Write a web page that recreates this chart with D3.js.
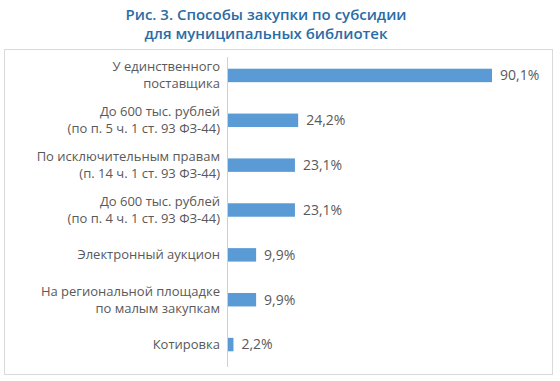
<!DOCTYPE html>
<html>
<head>
<meta charset="utf-8">
<script src="https://cdn.jsdelivr.net/npm/d3@7"></script>
<style>
  body { margin: 0; background: #fff; }
  svg { display: block; }
</style>
</head>
<body>
<script>
// Рис. 3 - способы закупки по субсидии
const categories = [
    ["У единственного", "поставщика"],
    ["До 600 тыс. рублей", "(по п. 5 ч. 1 ст. 93 ФЗ-44)"],
    ["По исключительным правам", "(п. 14 ч. 1 ст. 93 ФЗ-44)"],
    ["До 600 тыс. рублей", "(по п. 4 ч. 1 ст. 93 ФЗ-44)"],
    ["Электронный аукцион"],
    ["На региональной площадке", "по малым закупкам"],
    ["Котировка"]
]
const values = [90.1, 24.2, 23.1, 23.1, 9.9, 9.9, 2.2]
const valueLabels = ["90,1%", "24,2%", "23,1%", "23,1%", "9,9%", "9,9%", "2,2%"]
const titleLines = ["Рис. 3. Способы закупки по субсидии", "для муниципальных библиотек"]

const width = 560, height = 381
const fontFam = "'Open Sans', 'Noto Sans', sans-serif"
const axisX = 227
const lineH = 17

const svg = d3.select("body").append("svg")
    .attr("width", width)
    .attr("height", height)

svg.append("g")
    .selectAll("text")
    .data(titleLines)
    .enter()
    .append("text")
    .attr("x", 266)
    .attr("y", (d, i) => 20 + i * 19)
    .attr("text-anchor", "middle")
    .attr("font-family", fontFam)
    .attr("font-size", "15px")
    .attr("font-weight", 600)
    .attr("fill", "#2a6ca6")
    .text(d => d)

// frame
svg.append("rect")
    .attr("x", 4.5)
    .attr("y", 49.5)
    .attr("width", 548)
    .attr("height", 325)
    .attr("fill", "none")
    .attr("stroke", "#d9d9d9")
    .attr("stroke-width", 1)

const x = d3.scaleLinear()
    .domain([0, 90.1])
    .range([axisX, 492])

const y = d3.scaleBand()
    .domain(d3.range(categories.length))
    .range([53, 367])
    .paddingInner(0.7)
    .paddingOuter(0.35)

svg.append("g")
    .selectAll("rect")
    .data(values)
    .enter()
    .append("rect")
    .attr("x", x(0))
    .attr("y", (d, i) => y(i))
    .attr("width", d => x(d) - x(0))
    .attr("height", y.bandwidth())
    .attr("fill", "#5b9bd5")

// category axis
const yAxis = svg.append("g")
    .attr("transform", `translate(${axisX},0)`)
    .call(d3.axisLeft(y).tickSize(0).tickFormat(""))
yAxis.select(".domain")
    .attr("stroke", "#d0d0d0")
    .attr("d", `M0.5,57V367`)

// multi-line labels, each line its own text
const catLines = categories.flatMap((lines, i) =>
    lines.map((t, j) => ({t: t, i: i, off: (j - (lines.length - 1) / 2) * lineH})))

svg.append("g")
    .selectAll("text")
    .data(catLines)
    .enter()
    .append("text")
    .attr("x", axisX - 7)
    .attr("y", d => y(d.i) + y.bandwidth() / 2 + d.off)
    .attr("dy", "0.35em")
    .attr("text-anchor", "end")
    .attr("font-family", fontFam)
    .attr("font-size", "13px")
    .attr("fill", "#595959")
    .text(d => d.t)

svg.append("g")
    .selectAll("text")
    .data(values)
    .enter()
    .append("text")
    .attr("x", d => x(d) + 8)
    .attr("y", (d, i) => y(i) + y.bandwidth() / 2)
    .attr("dy", "0.35em")
    .attr("font-family", fontFam)
    .attr("font-size", "14px")
    .attr("fill", "#595959")
    .text((d, i) => valueLabels[i])
</script>
</body>
</html>
